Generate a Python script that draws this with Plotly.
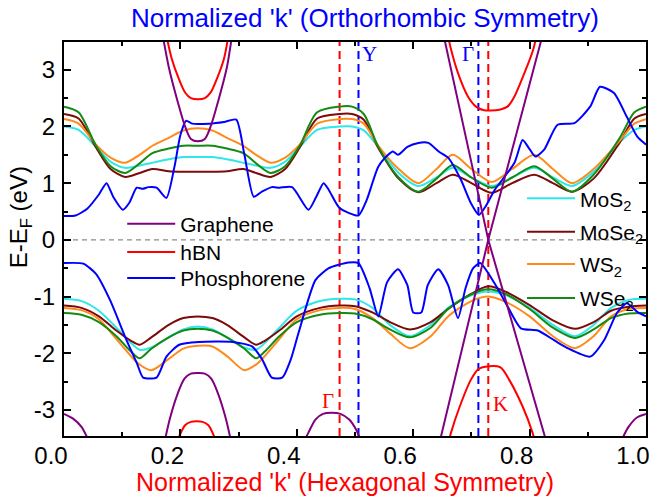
import plotly.graph_objects as go

# ---------------- band data (normalized k, E - E_F in eV) ----------------
# Graphene
graphene_vb_start_k = [0.0, 0.015, 0.03, 0.045]
graphene_vb_start_e = [-3.07, -3.15, -3.3, -3.6]
graphene_cb_m_k = [0.168, 0.18, 0.195, 0.208, 0.218, 0.23, 0.242, 0.252, 0.265, 0.28, 0.29]
graphene_cb_m_e = [3.7, 3.05, 2.45, 2.0, 1.78, 1.74, 1.78, 2.0, 2.45, 3.05, 3.7]
graphene_vb_m_k = [0.172, 0.182, 0.195, 0.207, 0.218, 0.23, 0.242, 0.253, 0.265, 0.278, 0.288]
graphene_vb_m_e = [-3.6, -3.15, -2.72, -2.45, -2.36, -2.35, -2.36, -2.45, -2.72, -3.15, -3.6]
graphene_vb_g_k = [0.41, 0.42, 0.432, 0.445, 0.46, 0.475, 0.49, 0.502, 0.512]
graphene_vb_g_e = [-3.6, -3.4, -3.17, -3.07, -3.05, -3.07, -3.17, -3.35, -3.6]
graphene_vb_end_k = [0.955, 0.97, 0.985, 1.0]
graphene_vb_end_e = [-3.6, -3.3, -3.13, -3.07]
graphene_cone_up_k = [0.6503, 0.69, 0.729, 0.778, 0.8246]
graphene_cone_up_e = [3.7, 1.83, 0.0, 1.9, 3.7]
graphene_cone_dn_k = [0.6423, 0.69, 0.729, 0.78, 0.8327]
graphene_cone_dn_e = [-3.7, -1.67, 0.0, -1.82, -3.7]

# hBN
hbn_cb_m_k = [0.174, 0.185, 0.197, 0.208, 0.218, 0.23, 0.242, 0.252, 0.263, 0.275, 0.284]
hbn_cb_m_e = [3.7, 3.2, 2.85, 2.6, 2.5, 2.48, 2.5, 2.6, 2.85, 3.2, 3.7]
hbn_vb_m_k = [0.193, 0.2, 0.208, 0.218, 0.228, 0.238, 0.248, 0.256, 0.262]
hbn_vb_m_e = [-3.6, -3.42, -3.27, -3.21, -3.2, -3.21, -3.27, -3.42, -3.6]
hbn_cb_k_k = [0.658, 0.664, 0.677, 0.694, 0.708, 0.72, 0.733, 0.75, 0.762, 0.774, 0.791, 0.806, 0.814]
hbn_cb_k_e = [3.7, 3.4, 2.94, 2.53, 2.35, 2.29, 2.28, 2.3, 2.35, 2.53, 2.94, 3.35, 3.7]
hbn_vb_k_k = [0.658, 0.665, 0.68, 0.699, 0.712, 0.73, 0.75, 0.765, 0.788, 0.805, 0.813]
hbn_vb_k_e = [-3.7, -3.4, -2.94, -2.47, -2.28, -2.23, -2.25, -2.47, -2.94, -3.4, -3.7]

# Phosphorene
phos_cb_k = [0.0, 0.02, 0.04, 0.06, 0.073, 0.085, 0.101, 0.112, 0.125, 0.135, 0.145, 0.159,
             0.176, 0.19, 0.2, 0.21, 0.22, 0.25, 0.275, 0.296, 0.31, 0.326, 0.34, 0.357, 0.37,
             0.392, 0.42, 0.433, 0.446, 0.455, 0.4735, 0.506, 0.52, 0.54, 0.557, 0.565, 0.574,
             0.59, 0.609, 0.626, 0.645, 0.66, 0.682, 0.699, 0.713, 0.725, 0.74, 0.774, 0.788,
             0.8, 0.81, 0.825, 0.848, 0.877, 0.904, 0.921, 0.945, 0.967, 0.985, 1.0]
phos_cb_e = [0.42, 0.43, 0.55, 0.8, 1.0, 0.75, 0.53, 0.65, 0.92, 0.9, 0.93, 0.92,
             0.74, 1.3, 1.85, 2.1, 2.05, 2.05, 2.08, 2.12, 1.5, 0.76, 0.85, 0.93, 0.92,
             0.93, 0.53, 0.75, 1.0, 0.88, 0.56, 0.43, 0.7, 1.29, 1.5, 1.56, 1.5,
             1.64, 1.71, 1.71, 1.55, 1.45, 1.06, 0.65, 0.44, 0.6, 0.88, 1.36, 1.76,
             1.6, 1.47, 1.59, 2.03, 2.06, 2.35, 2.7, 2.59, 2.17, 1.82, 1.68]
phos_vb_k = [0.0, 0.033, 0.055, 0.079, 0.107, 0.125, 0.136, 0.159, 0.176, 0.198, 0.232, 0.29,
             0.323, 0.34, 0.357, 0.375, 0.39, 0.403, 0.432, 0.455, 0.489, 0.506, 0.525, 0.54,
             0.555, 0.574, 0.59, 0.6, 0.614, 0.625, 0.643, 0.66, 0.677, 0.69, 0.703, 0.715,
             0.74, 0.762, 0.785, 0.814, 0.842, 0.865, 0.904, 0.928, 0.95, 0.967, 0.985, 1.0]
phos_vb_e = [-0.41, -0.42, -0.6, -1.06, -1.76, -2.17, -2.43, -2.43, -2.06, -1.85, -1.8, -1.8,
             -1.88, -2.1, -2.43, -2.43, -2.1, -1.64, -0.71, -0.5, -0.4, -0.41, -0.85, -1.35,
             -0.75, -0.52, -0.8, -1.28, -1.28, -0.8, -0.52, -0.8, -1.38, -0.85, -0.5, -0.41,
             -0.77, -1.17, -1.56, -1.6, -1.77, -1.91, -2.06, -1.77, -1.29, -1.12, -1.27, -1.35]

# Transition-metal dichalcogenides: conduction bands on a shared k grid
tmd_cb_k = [0.0, 0.025, 0.055, 0.08, 0.105, 0.13, 0.152, 0.18, 0.205, 0.23, 0.255, 0.28,
            0.308, 0.33, 0.355, 0.38, 0.405, 0.435, 0.4735, 0.495, 0.515, 0.54, 0.575, 0.609,
            0.64, 0.668, 0.70, 0.735, 0.77, 0.808, 0.84, 0.873, 0.91, 0.955, 0.98, 1.0]
mos2_cb = [2.0, 1.94, 1.64, 1.38, 1.27, 1.31, 1.36, 1.42, 1.46, 1.46, 1.46, 1.42,
           1.36, 1.31, 1.27, 1.38, 1.64, 1.94, 2.0, 2.0, 1.93, 1.64, 1.18, 0.95,
           1.1, 1.27, 1.1, 0.95, 1.1, 1.27, 1.1, 0.95, 1.2, 1.72, 1.94, 2.0]
mose2_cb = [2.22, 2.14, 1.63, 1.25, 1.11, 1.18, 1.25, 1.21, 1.2, 1.2, 1.2, 1.21,
            1.25, 1.18, 1.11, 1.25, 1.63, 2.14, 2.22, 2.22, 2.12, 1.62, 1.08, 0.84,
            1.0, 1.15, 1.0, 0.83, 1.0, 1.15, 1.0, 0.85, 1.08, 1.72, 2.14, 2.22]
ws2_cb = [2.13, 2.05, 1.68, 1.45, 1.36, 1.5, 1.66, 1.8, 1.93, 1.97, 1.93, 1.8,
          1.66, 1.5, 1.36, 1.45, 1.68, 2.05, 2.13, 2.13, 2.05, 1.66, 1.25, 1.0,
          1.25, 1.5, 1.25, 1.02, 1.25, 1.5, 1.25, 1.0, 1.25, 1.75, 2.05, 2.13]
wse2_cb = [2.35, 2.25, 1.66, 1.3, 1.18, 1.35, 1.53, 1.61, 1.66, 1.66, 1.66, 1.61,
           1.53, 1.35, 1.18, 1.3, 1.66, 2.25, 2.35, 2.35, 2.22, 1.64, 1.1, 0.85,
           1.08, 1.32, 1.1, 0.92, 1.1, 1.3, 1.08, 0.85, 1.15, 1.8, 2.25, 2.35]

# Transition-metal dichalcogenides: valence bands on a shared k grid
tmd_vb_k = [0.0, 0.03, 0.06, 0.09, 0.115, 0.13, 0.15, 0.18, 0.205, 0.23, 0.255, 0.28,
            0.31, 0.33, 0.345, 0.37, 0.4, 0.44, 0.4735, 0.5, 0.53, 0.56, 0.594, 0.63,
            0.66, 0.70, 0.729, 0.76, 0.80, 0.84, 0.878, 0.91, 0.94, 0.97, 1.0]
mos2_vb = [-1.04, -1.08, -1.25, -1.55, -1.82, -1.94, -1.9, -1.72, -1.58, -1.53, -1.58, -1.72,
           -1.9, -1.94, -1.82, -1.55, -1.25, -1.08, -1.04, -1.05, -1.2, -1.5, -1.7, -1.5,
           -1.2, -0.98, -0.91, -0.98, -1.2, -1.5, -1.7, -1.5, -1.2, -1.06, -1.04]
mose2_vb = [-1.16, -1.2, -1.35, -1.6, -1.78, -1.85, -1.72, -1.5, -1.38, -1.35, -1.38, -1.5,
            -1.72, -1.85, -1.78, -1.6, -1.35, -1.2, -1.16, -1.17, -1.28, -1.45, -1.58, -1.45,
            -1.22, -0.95, -0.82, -0.92, -1.15, -1.42, -1.57, -1.45, -1.25, -1.18, -1.16]
ws2_vb = [-1.2, -1.24, -1.4, -1.75, -2.05, -2.2, -2.3, -2.1, -1.92, -1.87, -1.88, -2.05,
          -2.3, -2.2, -2.05, -1.75, -1.4, -1.24, -1.2, -1.22, -1.38, -1.65, -1.91, -1.7,
          -1.35, -1.08, -1.0, -1.1, -1.35, -1.7, -1.91, -1.7, -1.35, -1.22, -1.2]
wse2_vb = [-1.29, -1.32, -1.45, -1.7, -1.97, -2.09, -1.92, -1.72, -1.6, -1.57, -1.6, -1.72,
           -1.92, -2.09, -1.97, -1.7, -1.45, -1.32, -1.29, -1.3, -1.4, -1.58, -1.72, -1.55,
           -1.22, -0.96, -0.87, -0.96, -1.22, -1.55, -1.73, -1.58, -1.38, -1.3, -1.29]

# High-symmetry points
hex_sym_k = [0.4735, 0.729]
hex_sym_labels = ["Γ", "K"]
orth_sym_k = [0.506, 0.712]
orth_sym_labels = ["Y", "Γ"]

x_tick_vals = [0.0, 0.2, 0.4, 0.6, 0.8, 1.0]
x_tick_text = ["0.0", "0.2", "0.4", "0.6", "0.8", "1.0"]
y_tick_vals = [-3, -2, -1, 0, 1, 2, 3]
y_tick_text = ["-3", "-2", "-1", "0", "1", "2", "3"]

C_GRAPHENE = "#800080"
C_HBN = "#FF0000"
C_PHOS = "#0000FF"
C_MOS2 = "#2EE8E8"
C_MOSE2 = "#7D0A0A"
C_WS2 = "#FF8A1C"
C_WSE2 = "#138A13"

FONT = "Liberation Sans, Arial, sans-serif"
SERIF = "Liberation Serif, Times New Roman, serif"
LW = 2


def join(*segs):
    xs, ys = [], []
    for i in range(0, len(segs), 2):
        if xs:
            xs.append(None)
            ys.append(None)
        xs.extend(segs[i])
        ys.extend(segs[i + 1])
    return xs, ys


fig = go.Figure()

# zero-energy reference line
fig.add_hline(y=0, line=dict(color="#8C8C8C", width=1.2, dash="5px,4px"), layer="below")

# high-symmetry markers
for k in hex_sym_k:
    fig.add_vline(x=k, line=dict(color="#FF0000", width=2, dash="8px,5px"), layer="below")
for k in orth_sym_k:
    fig.add_vline(x=k, line=dict(color="#0000FF", width=2, dash="8px,5px"), layer="below")

tmd = [
    ("MoS<sub>2</sub>", mos2_cb, mos2_vb, C_MOS2, "legend4"),
    ("MoSe<sub>2</sub>", mose2_cb, mose2_vb, C_MOSE2, "legend5"),
    ("WS<sub>2</sub>", ws2_cb, ws2_vb, C_WS2, "legend6"),
    ("WSe<sub>2</sub>", wse2_cb, wse2_vb, C_WSE2, "legend7"),
]
for name, cb, vb, col, leg in tmd:
    xs, ys = join(tmd_cb_k, cb, tmd_vb_k, vb)
    fig.add_trace(go.Scatter(
        x=xs, y=ys, mode="lines", name=name, legend=leg,
        line=dict(color=col, width=LW, shape="spline", smoothing=0.8),
    ))

xs, ys = join(phos_cb_k, phos_cb_e, phos_vb_k, phos_vb_e)
fig.add_trace(go.Scatter(
    x=xs, y=ys, mode="lines", name="Phosphorene", legend="legend3",
    line=dict(color=C_PHOS, width=LW, shape="spline", smoothing=0.6),
))

xs, ys = join(hbn_cb_m_k, hbn_cb_m_e, hbn_vb_m_k, hbn_vb_m_e,
              hbn_cb_k_k, hbn_cb_k_e, hbn_vb_k_k, hbn_vb_k_e)
fig.add_trace(go.Scatter(
    x=xs, y=ys, mode="lines", name="hBN", legend="legend2",
    line=dict(color=C_HBN, width=LW, shape="spline", smoothing=0.8),
))

xs, ys = join(graphene_vb_start_k, graphene_vb_start_e, graphene_cb_m_k, graphene_cb_m_e,
              graphene_vb_m_k, graphene_vb_m_e, graphene_vb_g_k, graphene_vb_g_e,
              graphene_vb_end_k, graphene_vb_end_e)
fig.add_trace(go.Scatter(
    x=xs, y=ys, mode="lines", name="Graphene", legend="legend",
    legendgroup="graphene",
    line=dict(color=C_GRAPHENE, width=LW, shape="spline", smoothing=0.8),
))
xs, ys = join(graphene_cone_up_k, graphene_cone_up_e, graphene_cone_dn_k, graphene_cone_dn_e)
fig.add_trace(go.Scatter(
    x=xs, y=ys, mode="lines", name="Graphene", legend="legend", showlegend=False,
    legendgroup="graphene",
    line=dict(color=C_GRAPHENE, width=LW),
))

# symmetry-point labels
fig.add_annotation(x=orth_sym_k[0], y=3.28, text=orth_sym_labels[0], xanchor="left", xshift=2,
                   showarrow=False, font=dict(family=SERIF, size=21, color="#0000FF"))
fig.add_annotation(x=orth_sym_k[1], y=3.28, text=orth_sym_labels[1], xanchor="right", xshift=-2,
                   showarrow=False, font=dict(family=SERIF, size=21, color="#0000FF"))
fig.add_annotation(x=hex_sym_k[0], y=-2.85, text=hex_sym_labels[0], xanchor="right", xshift=-4,
                   showarrow=False, font=dict(family=SERIF, size=21, color="#FF0000"))
fig.add_annotation(x=hex_sym_k[1], y=-2.9, text=hex_sym_labels[1], xanchor="left", xshift=3,
                   showarrow=False, font=dict(family=SERIF, size=21, color="#FF0000"))

# axis captions: orthorhombic path on top, hexagonal path below, energy on the left
fig.add_annotation(xref="paper", yref="paper", x=0.518, y=1.0, yshift=24,
                   text="Normalized 'k' (Orthorhombic Symmetry)", showarrow=False,
                   yanchor="middle", font=dict(family=FONT, size=26, color="#0000FF"))
fig.add_annotation(xref="paper", yref="paper", x=0.482, y=0.0, yshift=-46,
                   text="Normalized 'k' (Hexagonal Symmetry)", showarrow=False,
                   yanchor="middle", font=dict(family=FONT, size=25, color="#FF0000"))
fig.add_annotation(xref="paper", yref="paper", x=0, xshift=-44, y=0.555,
                   text="E-E<sub>F</sub> (eV)", textangle=-90, showarrow=False,
                   xanchor="center", yanchor="middle", font=dict(family=FONT, size=24, color="black"))

axis_common = dict(
    showline=True, linecolor="black", linewidth=2, mirror="allticks",
    ticks="inside", ticklen=7, tickwidth=1.5, tickcolor="black",
    showgrid=False, zeroline=False,
    tickfont=dict(family=FONT, size=24, color="black"),
)

legend_common = dict(xanchor="left", yanchor="top", bgcolor="rgba(0,0,0,0)",
                     font=dict(family=FONT, size=21, color="black"), itemwidth=48)
left_x = 0.1
right_x = 0.787

fig.update_layout(
    width=655, height=497,
    margin=dict(l=64, r=6, t=42, b=61),
    paper_bgcolor="white", plot_bgcolor="white",
    xaxis=dict(range=[0, 1], tickvals=x_tick_vals, ticktext=x_tick_text,
               minor=dict(ticks="inside", ticklen=4, tickwidth=1.5, dtick=0.1, tickcolor="black"),
               ticklabelshift=-13, ticklabelstandoff=-3,
               **axis_common),
    yaxis=dict(range=[-3.46, 3.49], tickvals=y_tick_vals, ticktext=y_tick_text,
               minor=dict(ticks="inside", ticklen=4, tickwidth=1.5, dtick=0.5, tickcolor="black"),
               ticklabelstandoff=2,
               **axis_common),
    legend=dict(x=left_x, y=0.5896, **legend_common),
    legend2=dict(x=left_x, y=0.5184, **legend_common),
    legend3=dict(x=left_x, y=0.4523, **legend_common),
    legend4=dict(x=right_x, y=0.6544, **legend_common),
    legend5=dict(x=right_x, y=0.5693, **legend_common),
    legend6=dict(x=right_x, y=0.4879, **legend_common),
    legend7=dict(x=right_x, y=0.4015, **legend_common),
    showlegend=True,
)

fig.write_html("out.html")
